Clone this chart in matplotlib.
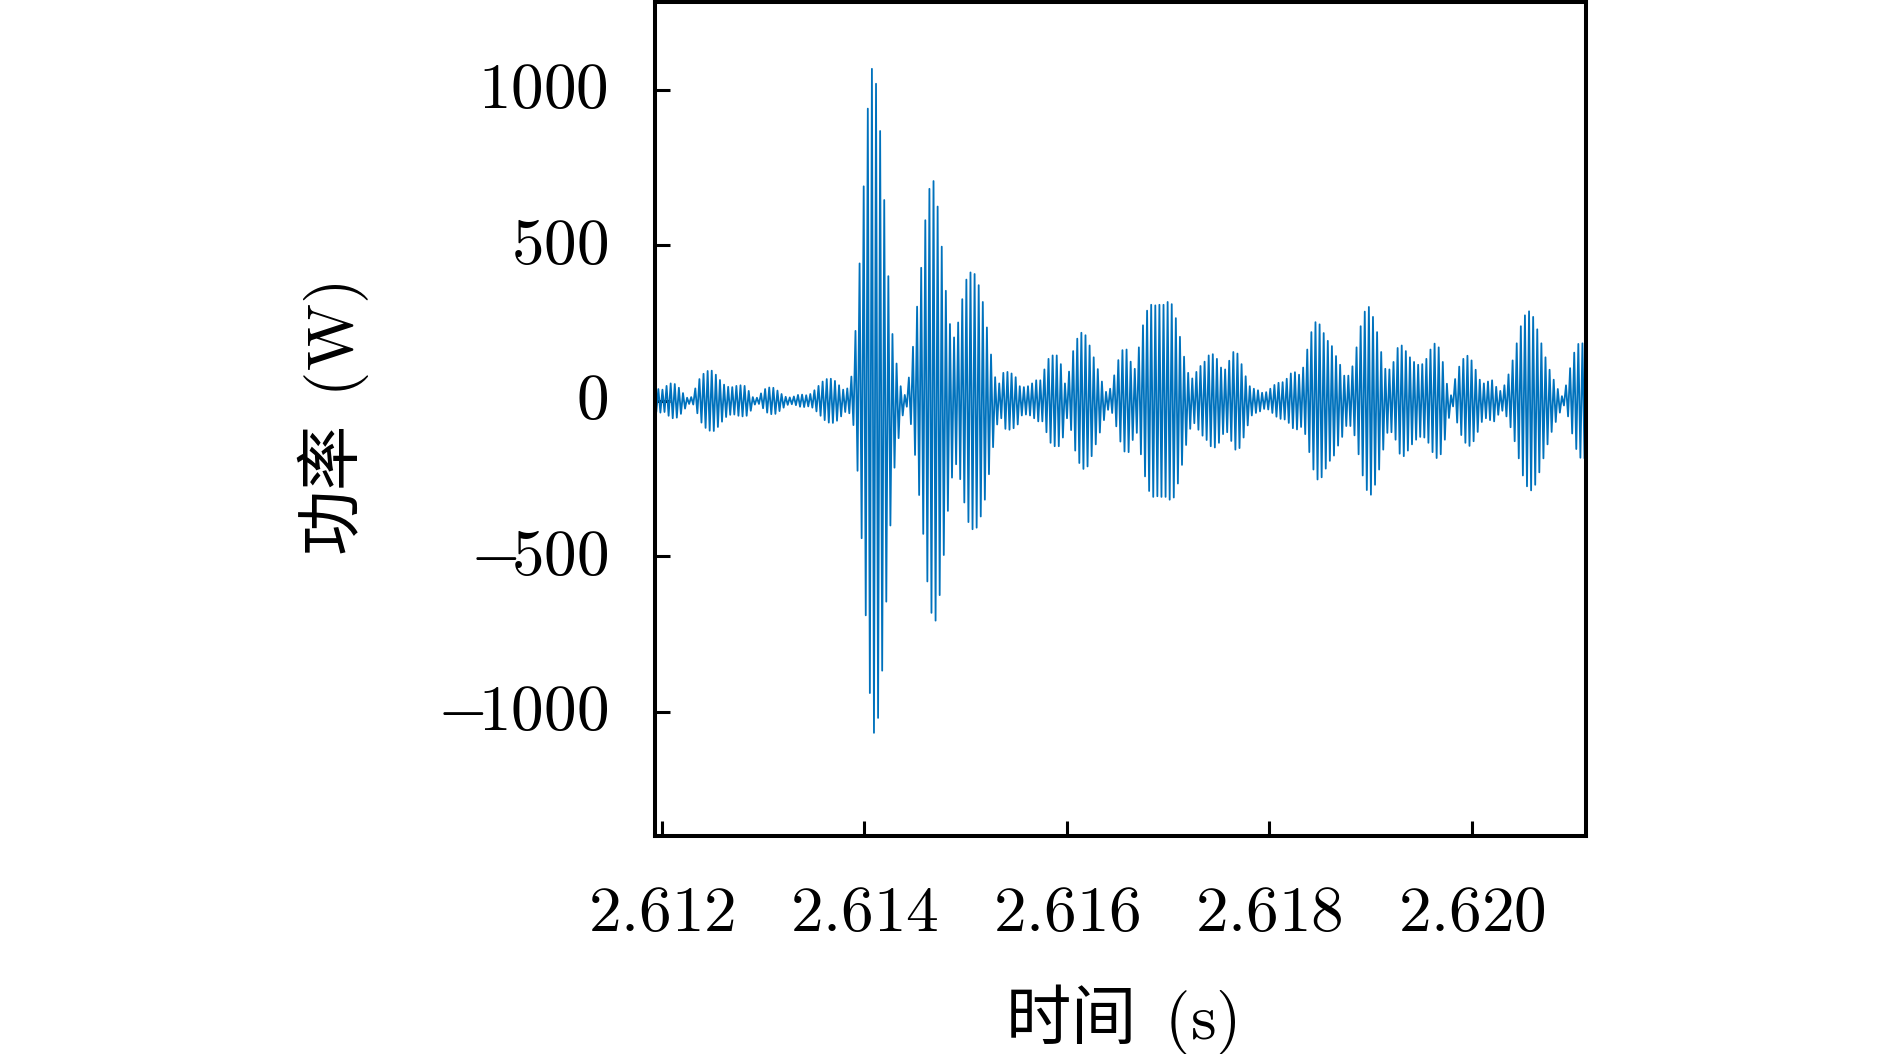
import numpy as np
import matplotlib
matplotlib.use("Agg")
import matplotlib.pyplot as plt

plt.rcParams['mathtext.fontset'] = 'cm'
plt.rcParams['font.family'] = ['Noto Sans CJK SC', 'DejaVu Sans']

# ---- data ----
t_first = 2.611926          # time of first positive peak (s)
period = 4.056e-5           # carrier period (s)
peak_amplitudes = [
    36, 38, 36, 48, 56, 54, 42, 25, 10, 12, 40, 70, 87, 96, 97, 84, 67, 52, 45, 44,
    48, 50, 48, 32, 12, 10, 24, 38, 43, 42, 33, 22, 13, 11, 14, 19, 20, 18, 22, 34,
    48, 62, 70, 71, 64, 50, 36, 40, 78, 225, 442, 690, 940, 1068,
    1020, 868, 646, 401, 215, 120, 47, 19, 75, 174, 303, 428, 581, 682, 707, 625,
    496, 354, 247, 204, 252, 327, 390, 413, 408, 372, 318, 236, 149, 76, 56, 90,
    93, 88, 76, 47, 44, 47, 56, 66, 66, 101, 135, 146, 146, 118, 56, 94, 160, 200,
    219, 211, 178, 140, 102,
    62, 29, 39, 82, 131, 163, 165, 126, 103, 172, 243, 290, 309, 307, 309, 309,
    318, 311, 266, 206, 142, 90, 72,
    93, 112, 126, 146, 150, 135, 107, 101, 129, 157, 152, 118, 79, 47, 39, 34,
    26, 28, 39, 51, 58, 60, 71, 88, 92, 84, 107, 165, 221, 253, 246, 218, 193,
    176, 144, 116, 81, 81, 111, 172, 240, 287, 302, 270, 221, 157, 103, 101,
    125, 170, 178, 160, 140, 125, 116, 118, 135, 165, 184, 172, 125, 55, 18, 70,
    110, 135, 145, 130, 100, 68, 56, 62, 66,
    45, 32, 50, 85, 130, 185, 240, 275, 288, 270, 230, 185, 140, 100, 68, 38, 15,
    50, 105, 155, 183, 185, 175,
]
x_ticks = [2.612, 2.614, 2.616, 2.618, 2.620]
x_tick_labels = [r'$2.612$', r'$2.614$', r'$2.616$', r'$2.618$', r'$2.620$']
y_ticks = [-1000, -500, 0, 500, 1000]
y_tick_labels = [r'$-\!1000$', r'$-\!500$', r'$0$', r'$500$', r'$1000$']
x_limits = (2.611938, 2.621123)
y_limits = (-1400, 1283)

# ---- build the signal: alternating positive peaks and negative troughs ----
amps = np.asarray(peak_amplitudes, dtype=float)
k = np.arange(len(amps))
t_peaks = t_first + k * period
t_troughs = t_peaks + period / 2
t = np.empty(2 * len(amps))
y = np.empty(2 * len(amps))
t[0::2] = t_peaks
t[1::2] = t_troughs
y[0::2] = amps
y[1::2] = -amps

fig = plt.figure(figsize=(18.9, 10.54), dpi=100)
ax = fig.add_axes([0.3468, 0.2068, 0.4921, 0.7913])
ax.plot(t, y, color='#0072BD', lw=1.3)

ax.set_xlim(*x_limits)
ax.set_ylim(*y_limits)
ax.set_xticks(x_ticks)
ax.set_xticklabels(x_tick_labels)
ax.set_yticks(y_ticks)
ax.set_yticklabels(y_tick_labels)

ax.tick_params(direction='in', length=10.8, width=2.2, labelsize=47,
               top=False, right=False)
ax.tick_params(axis='x', pad=31)
ax.tick_params(axis='y', pad=34)
for lab in ax.get_yticklabels():
    lab.set_verticalalignment('center')
for s in ax.spines.values():
    s.set_linewidth(2.9)
    s.set_color('black')

ax.set_xlabel('时间  $(\\mathrm{s})$', fontsize=47)
ax.set_ylabel('功率  $(\\mathrm{W})$', fontsize=47)
ax.xaxis.set_label_coords(0.5, -0.175)
ax.yaxis.set_label_coords(-0.306, 0.5)

fig.savefig('out.png', dpi=100, facecolor='white')
